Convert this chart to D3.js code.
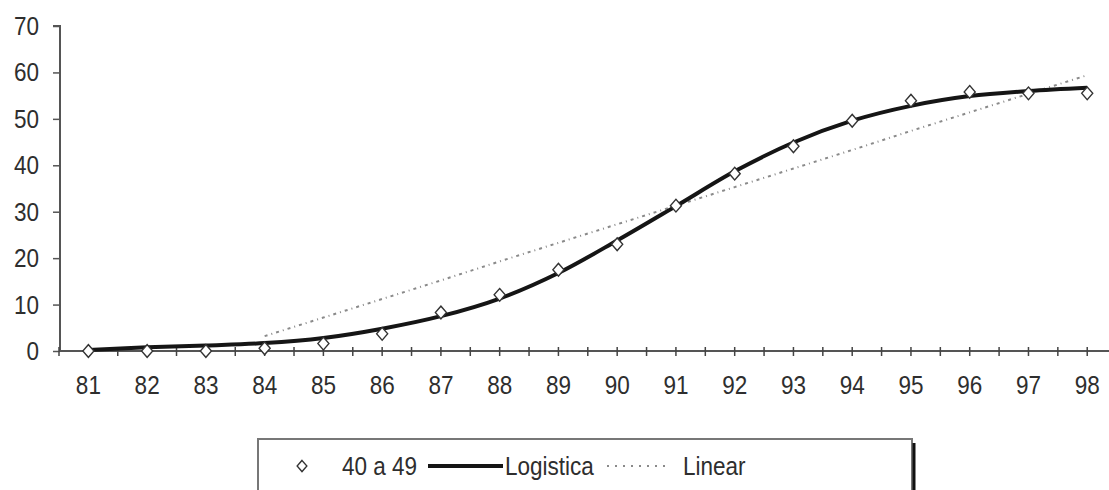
<!DOCTYPE html>
<html>
<head>
<meta charset="utf-8">
<script src="https://cdn.jsdelivr.net/npm/d3@7"></script>
<style>
  html, body { margin: 0; padding: 0; background: #fff; }
  svg { display: block; }
  text { font-family: "Liberation Sans", Arial, sans-serif; fill: #2e2e2e; }
</style>
</head>
<body>
<svg id="chart" width="1109" height="490"></svg>
<script>
// Years (two-digit) on the category axis
const years = ["81","82","83","84","85","86","87","88","89","90","91","92","93","94","95","96","97","98"];
// Observed values for the 40 a 49 group
const observed = [0, 0, 0, 0.6, 1.6, 3.7, 8.3, 12.1, 17.5, 23.0, 31.3, 38.2, 44.1, 49.6, 53.9, 55.8, 55.5, 55.5];
// Logistic fit
const logistic = [0.2, 0.8, 1.2, 1.7, 2.8, 4.8, 7.5, 11.3, 16.8, 23.8, 31.2, 38.7, 44.9, 49.6, 52.8, 54.9, 56.0, 56.7];
// Linear trend (drawn from 84 onwards)
const linear = [null, null, null, 3.2, 7.2, 11.2, 15.2, 19.3, 23.3, 27.3, 31.3, 35.3, 39.3, 43.3, 47.4, 51.4, 55.4, 59.4];
// Value axis ticks
const yTicks = [0, 10, 20, 30, 40, 50, 60, 70];
// Legend entries
const legendLabels = ["40 a 49", "Logistica", "Linear"];

const svg = d3.select("#chart");
const FS = 22.5;      // label font size
const STRETCH = 1.16; // labels are drawn slightly tall

const x = d3.scaleBand().domain(years).range([59, 1116.6]).padding(0);
const y = d3.scaleLinear().domain([0, 70]).range([351, 26]);
const cx = d => x(d) + x.bandwidth() / 2;

// Tall text helper: anchor point is the baseline position
function tallText(g, tx, ty, str, anchor) {
  return g.append("text")
    .attr("transform", `translate(${tx},${ty}) scale(1,${STRETCH})`)
    .attr("text-anchor", anchor || "start")
    .attr("font-size", FS)
    .text(str);
}

// Y axis
const yAxis = svg.append("g")
  .attr("transform", "translate(60,0)")
  .call(d3.axisLeft(y).tickValues(yTicks).tickSize(7).tickFormat(""));
yAxis.select(".domain").attr("stroke", "#555").attr("stroke-width", 2).attr("d", `M-7,${y(70)}H0V${y(0)}`);
yAxis.selectAll(".tick line").attr("stroke", "#555").attr("stroke-width", 1.5);
const yl = svg.append("g");
yTicks.forEach(v => tallText(yl, 39, y(v) + 9, d3.format("d")(v), "end"));

// X axis line with ticks at band edges and centres
const xg = svg.append("g");
xg.append("line")
  .attr("x1", x.range()[0]).attr("x2", x.range()[1])
  .attr("y1", y(0)).attr("y2", y(0))
  .attr("stroke", "#555").attr("stroke-width", 2);
const tickPos = [];
years.forEach(d => { tickPos.push(x(d)); tickPos.push(cx(d)); });
tickPos.push(x.range()[1]);
xg.selectAll("line.tick").data(tickPos).enter().append("line")
  .attr("class", "tick")
  .attr("x1", d => d).attr("x2", d => d)
  .attr("y1", y(0) - 4).attr("y2", y(0) + 5)
  .attr("stroke", "#444").attr("stroke-width", 1.5);
years.forEach(d => tallText(xg, cx(d), y(0) + 43, d, "middle"));

// Linear trend
const linePath = d3.line()
  .defined(d => d[1] !== null)
  .x(d => cx(d[0])).y(d => y(d[1]));
svg.append("path")
  .datum(years.map((d, i) => [d, linear[i]]))
  .attr("d", linePath)
  .attr("fill", "none").attr("stroke", "#8a8a8a").attr("stroke-width", 2)
  .attr("stroke-dasharray", "3,4,1,4");

// Logistic fit
svg.append("path")
  .datum(years.map((d, i) => [d, logistic[i]]))
  .attr("d", d3.line().x(d => cx(d[0])).y(d => y(d[1])).curve(d3.curveMonotoneX))
  .attr("fill", "none").attr("stroke", "#151515").attr("stroke-width", 4)
  .attr("stroke-linejoin", "round");

// Observed markers
const diamond = d3.symbol().type(d3.symbolDiamond2).size(78);
svg.selectAll("path.obs").data(years.map((d, i) => [d, observed[i]])).enter().append("path")
  .attr("class", "obs")
  .attr("d", diamond)
  .attr("transform", d => `translate(${cx(d[0])},${y(d[1])}) scale(1,1.15)`)
  .attr("fill", "#fff").attr("stroke", "#333").attr("stroke-width", 1.3);

// Legend
const lg = svg.append("g");
lg.append("rect").attr("x", 258).attr("y", 439).attr("width", 654).attr("height", 70)
  .attr("fill", "#fff").attr("stroke", "#777").attr("stroke-width", 2);
lg.append("line").attr("x1", 914).attr("x2", 914).attr("y1", 443).attr("y2", 495)
  .attr("stroke", "#111").attr("stroke-width", 3);
const ly = 466;
lg.append("path").attr("d", d3.symbol().type(d3.symbolDiamond2).size(60))
  .attr("transform", `translate(302,${ly}) scale(1,1.15)`)
  .attr("fill", "#fff").attr("stroke", "#333").attr("stroke-width", 1.3);
tallText(lg, 342, ly + 9, legendLabels[0]);
lg.append("line").attr("x1", 428).attr("x2", 503).attr("y1", ly).attr("y2", ly)
  .attr("stroke", "#151515").attr("stroke-width", 4);
tallText(lg, 505, ly + 9, legendLabels[1]);
lg.append("line").attr("x1", 607).attr("x2", 669).attr("y1", ly).attr("y2", ly)
  .attr("stroke", "#8a8a8a").attr("stroke-width", 2).attr("stroke-dasharray", "2,6");
tallText(lg, 683, ly + 9, legendLabels[2]);
</script>
</body>
</html>
